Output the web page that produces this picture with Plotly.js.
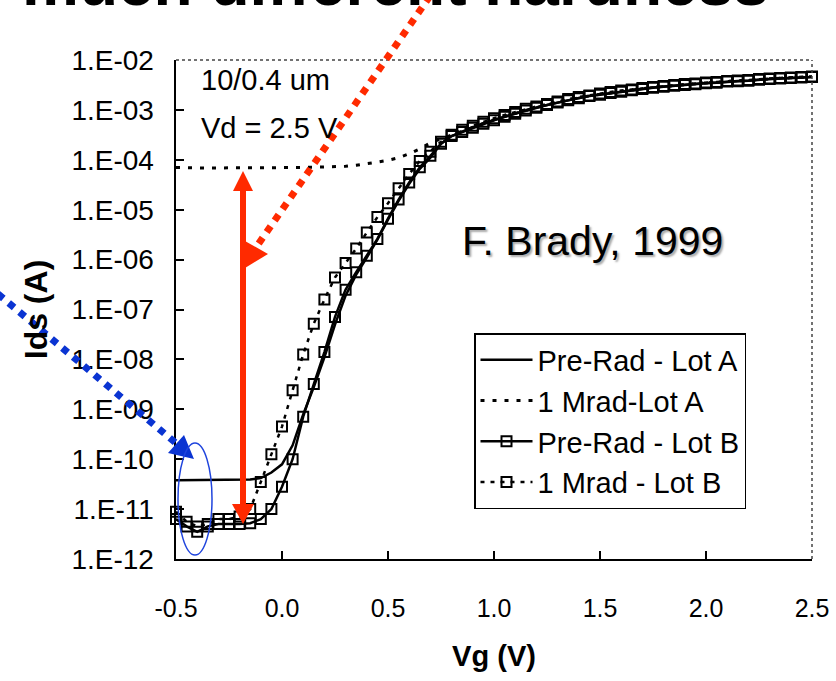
<!DOCTYPE html>
<html>
<head>
<meta charset="utf-8">
<script src="https://cdn.plot.ly/plotly-3.0.1.min.js"></script>
<style>html,body{margin:0;padding:0;background:#fff;}#chart{width:836px;height:681px;}</style>
</head>
<body>
<div id="chart"></div>
<script>
// ---- data ----
const vg = [-0.50,-0.45,-0.40,-0.35,-0.30,-0.25,-0.20,-0.15,-0.10,-0.05,
  0.00,0.05,0.10,0.15,0.20,0.25,0.30,0.35,0.40,0.45,
  0.50,0.55,0.60,0.65,0.70,0.75,0.80,0.85,0.90,0.95,
  1.00,1.05,1.10,1.15,1.20,1.25,1.30,1.35,1.40,1.45,
  1.50,1.55,1.60,1.65,1.70,1.75,1.80,1.85,1.90,1.95,
  2.00,2.05,2.10,2.15,2.20,2.25,2.30,2.35,2.40,2.45,2.50];

const idsPreRadLotA = [3.8e-11,3.8e-11,3.8e-11,3.8e-11,3.8e-11,3.8e-11,3.8e-11,3.9e-11,4.2e-11,5.4e-11,
  7.9e-11,1.9e-10,7.9e-10,2.8e-9,1.1e-8,5.0e-8,1.9e-7,5.0e-7,1.1e-6,2.5e-6,
  6.3e-6,1.5e-5,3.3e-5,6.6e-5,1.1e-4,2.1e-4,3.0e-4,3.7e-4,4.5e-4,5.4e-4,
  6.3e-4,7.4e-4,8.5e-4,9.8e-4,1.12e-3,1.26e-3,1.41e-3,1.58e-3,1.74e-3,1.91e-3,
  2.04e-3,2.19e-3,2.34e-3,2.51e-3,2.63e-3,2.82e-3,2.95e-3,3.09e-3,3.16e-3,3.31e-3,
  3.47e-3,3.55e-3,3.72e-3,3.80e-3,3.89e-3,4.07e-3,4.17e-3,4.27e-3,4.37e-3,4.47e-3,4.57e-3];

const ids1MradLotA = [7.0e-5,6.9e-5,6.8e-5,6.8e-5,6.8e-5,6.9e-5,6.8e-5,6.9e-5,6.9e-5,6.9e-5,
  7.0e-5,7.0e-5,7.1e-5,7.1e-5,7.2e-5,7.3e-5,7.4e-5,7.8e-5,8.3e-5,9.0e-5,
  9.8e-5,1.10e-4,1.32e-4,1.66e-4,2.19e-4,2.63e-4,3.16e-4,3.8e-4,4.6e-4,5.5e-4,
  6.4e-4,7.5e-4,8.6e-4,9.9e-4,1.13e-3,1.27e-3,1.42e-3,1.59e-3,1.75e-3,1.92e-3,
  2.05e-3,2.20e-3,2.35e-3,2.52e-3,2.64e-3,2.83e-3,2.96e-3,3.10e-3,3.18e-3,3.32e-3,
  3.48e-3,3.57e-3,3.73e-3,3.82e-3,3.91e-3,4.08e-3,4.19e-3,4.29e-3,4.39e-3,4.49e-3,4.59e-3];

const idsPreRadLotB = [6.3e-12,4.5e-12,3.5e-12,4.5e-12,5.0e-12,5.0e-12,5.0e-12,5.2e-12,6.3e-12,1.0e-11,
  2.8e-11,1.0e-10,7.1e-10,3.2e-9,1.4e-8,7.1e-8,2.5e-7,5.6e-7,1.2e-6,2.6e-6,
  6.6e-6,1.6e-5,3.5e-5,7.1e-5,1.2e-4,2.1e-4,3.0e-4,3.6e-4,4.4e-4,5.3e-4,
  6.2e-4,7.3e-4,8.4e-4,9.7e-4,1.11e-3,1.25e-3,1.40e-3,1.56e-3,1.72e-3,1.89e-3,
  2.02e-3,2.17e-3,2.32e-3,2.48e-3,2.61e-3,2.79e-3,2.92e-3,3.06e-3,3.14e-3,3.28e-3,
  3.44e-3,3.52e-3,3.69e-3,3.77e-3,3.86e-3,4.04e-3,4.14e-3,4.24e-3,4.34e-3,4.44e-3,4.54e-3];

const ids1MradLotB = [8.9e-12,5.6e-12,4.5e-12,5.0e-12,6.3e-12,6.3e-12,7.1e-12,1.0e-11,3.5e-11,1.26e-10,
  4.5e-10,2.4e-9,1.26e-8,5.2e-8,1.58e-7,4.4e-7,8.5e-7,1.66e-6,3.5e-6,7.1e-6,
  1.35e-5,2.7e-5,5.2e-5,9.5e-5,1.45e-4,2.3e-4,3.16e-4,4.0e-4,4.8e-4,5.8e-4,
  6.8e-4,7.9e-4,9.1e-4,1.05e-3,1.17e-3,1.32e-3,1.48e-3,1.66e-3,1.82e-3,1.95e-3,
  2.14e-3,2.29e-3,2.45e-3,2.57e-3,2.75e-3,2.88e-3,3.02e-3,3.16e-3,3.31e-3,3.39e-3,
  3.55e-3,3.63e-3,3.80e-3,3.89e-3,3.98e-3,4.17e-3,4.27e-3,4.37e-3,4.47e-3,4.57e-3,4.68e-3];

const seriesNames = ['Pre-Rad - Lot A', '1 Mrad-Lot A', 'Pre-Rad - Lot B', '1 Mrad - Lot B'];
const yTickVals = [1e-12,1e-11,1e-10,1e-9,1e-8,1e-7,1e-6,1e-5,1e-4,1e-3,1e-2];
const yTickText = ['1.E-12','1.E-11','1.E-10','1.E-09','1.E-08','1.E-07','1.E-06','1.E-05','1.E-04','1.E-03','1.E-02'];
const xTickVals = [-0.5,0.0,0.5,1.0,1.5,2.0,2.5];
const xTickText = ['-0.5','0.0','0.5','1.0','1.5','2.0','2.5'];

// ---- layout helpers (pixel -> paper) ----
const L = 176, R = 24, T = 60, B = 122, W = 836, H = 681;
const PW = W - L - R, PH = H - T - B;
const px = x => (x - L) / PW;
const py = y => (H - B - y) / PH;
const path = pts => 'M' + pts.map(p => px(p[0]).toFixed(5) + ',' + py(p[1]).toFixed(5)).join(' L') + ' Z';

const FONT = '"Liberation Sans", Arial, Helvetica, sans-serif';
const RED = '#ff2a00';
const BLUE = '#0a34d2';

const traces = [
  { x: vg, y: idsPreRadLotA, name: seriesNames[0], type: 'scatter', mode: 'lines',
    line: { color: '#000', width: 2.5 }, legendgroup: 'a' },
  { x: vg, y: ids1MradLotA, name: seriesNames[1], type: 'scatter', mode: 'lines',
    line: { color: '#000', width: 3, dash: '4px,8px' }, legendgroup: 'b' },
  { x: vg, y: idsPreRadLotB, name: seriesNames[2], type: 'scatter', mode: 'lines+markers',
    line: { color: '#000', width: 2.5 },
    marker: { symbol: 'square-open', size: 10, color: '#000', line: { width: 2, color: '#000' } },
    cliponaxis: false, legendgroup: 'c' },
  { x: vg, y: ids1MradLotB, name: seriesNames[3], type: 'scatter', mode: 'lines+markers',
    line: { color: '#000', width: 2.5, dash: '4px,6px' },
    marker: { symbol: 'square-open', size: 10, color: '#000', line: { width: 2, color: '#000' } },
    cliponaxis: false, legendgroup: 'd' }
];

const shapes = [
  // scanned frame: dotted top and right edges
  { type: 'line', xref: 'paper', yref: 'paper', x0: 0, x1: 1, y0: 1, y1: 1, line: { color: '#444', width: 1.5, dash: 'dot' } },
  { type: 'line', xref: 'paper', yref: 'paper', x0: 1, x1: 1, y0: 0, y1: 1, line: { color: '#444', width: 1.5, dash: 'dot' } },
  // red dotted arrow from the top
  { type: 'line', xref: 'paper', yref: 'paper', x0: px(430), y0: py(-4), x1: px(257), y1: py(246), line: { color: RED, width: 7, dash: 'dot' } },
  { type: 'path', xref: 'paper', yref: 'paper', path: path([[245,241],[268,254],[245,268]]), fillcolor: RED, line: { width: 0 } },
  // red vertical double arrow
  { type: 'line', xref: 'paper', yref: 'paper', x0: px(243), x1: px(243), y0: py(188), y1: py(507), line: { color: RED, width: 6 } },
  { type: 'path', xref: 'paper', yref: 'paper', path: path([[243,171],[233,191],[253,191]]), fillcolor: RED, line: { width: 0 } },
  { type: 'path', xref: 'paper', yref: 'paper', path: path([[243,524],[232,504],[254,504]]), fillcolor: RED, line: { width: 0 } },
  // blue dotted arrow
  { type: 'line', xref: 'paper', yref: 'paper', x0: px(-2), y0: py(294), x1: px(177), y1: py(444), line: { color: BLUE, width: 7, dash: 'dot' } },
  { type: 'path', xref: 'paper', yref: 'paper', path: path([[194,459],[168,453],[184,435]]), fillcolor: BLUE, line: { width: 0 } },
  // blue ellipse
  { type: 'circle', xref: 'paper', yref: 'paper', x0: px(178), x1: px(212), y0: py(555), y1: py(443), line: { color: '#1f44dd', width: 1.5 } }
];

const annotations = [
  { xref: 'paper', yref: 'paper', x: px(199), y: py(80), xanchor: 'left', yanchor: 'middle', showarrow: false,
    text: '10/0.4 um', font: { family: FONT, size: 29, color: '#000' } },
  { xref: 'paper', yref: 'paper', x: px(199), y: py(128), xanchor: 'left', yanchor: 'middle', showarrow: false,
    text: 'Vd = 2.5 V', font: { family: FONT, size: 29, color: '#000' } },
  { xref: 'paper', yref: 'paper', x: px(460), y: py(241), xanchor: 'left', yanchor: 'middle', showarrow: false,
    text: 'F. Brady, 1999', font: { family: FONT, size: 41, color: '#000', shadow: '2px 2px 2px #aaa' } },
  { xref: 'paper', yref: 'paper', x: px(395), y: py(21), xanchor: 'center', yanchor: 'bottom', showarrow: false,
    text: 'much different hardness', font: { family: FONT, size: 64, color: '#000', weight: 'bold' } }
];

const layout = {
  width: W, height: H,
  margin: { l: L, r: R, t: T, b: B, pad: 0 },
  paper_bgcolor: '#fff', plot_bgcolor: '#fff',
  font: { family: FONT, color: '#000' },
  showlegend: true,
  legend: {
    x: px(474), y: py(333), xanchor: 'left', yanchor: 'top',
    bgcolor: '#fff', bordercolor: '#000', borderwidth: 1.5,
    font: { family: FONT, size: 29, color: '#000' },
    tracegroupgap: 0, itemwidth: 52
  },
  xaxis: {
    range: [-0.5, 2.5], tickvals: xTickVals, ticktext: xTickText,
    ticks: 'inside', ticklen: 8, tickwidth: 2, tickcolor: '#000',
    showline: true, linecolor: '#000', linewidth: 2, mirror: false,
    showgrid: false, zeroline: false, automargin: false,
    tickfont: { family: FONT, size: 25, color: '#000' }, ticklabelstandoff: 26,
    title: { text: 'Vg (V)', font: { family: FONT, size: 29, color: '#000', weight: 'bold' }, standoff: 25 }
  },
  yaxis: {
    type: 'log', range: [-12, -2], tickvals: yTickVals, ticktext: yTickText,
    ticks: 'inside', ticklen: 8, tickwidth: 2, tickcolor: '#000',
    showline: true, linecolor: '#000', linewidth: 2.5, mirror: false,
    showgrid: false, zeroline: false, automargin: false,
    tickfont: { family: FONT, size: 28, color: '#000' }, ticklabelstandoff: 14,
    title: { text: 'Ids (A)', font: { family: FONT, size: 32, color: '#000', weight: 'bold' }, standoff: 14 }
  },
  shapes: shapes,
  annotations: annotations
};

Plotly.newPlot('chart', traces, layout, { displayModeBar: false, staticPlot: true });
</script>
</body>
</html>
